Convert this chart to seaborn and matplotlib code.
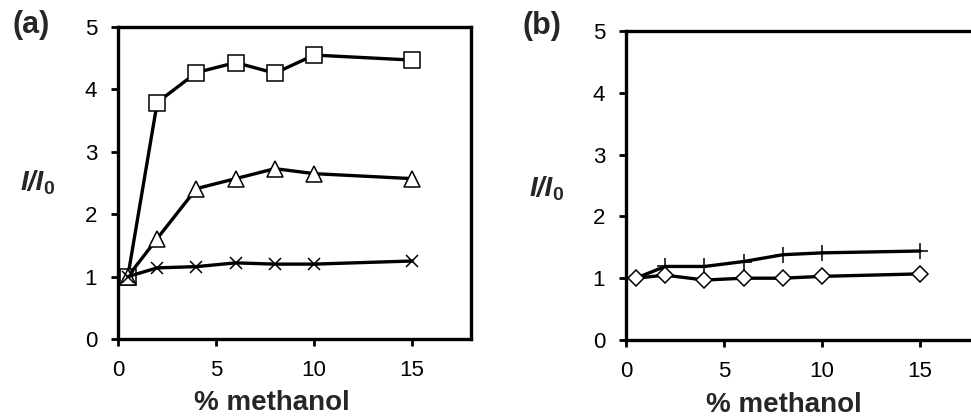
import matplotlib
matplotlib.use("Agg")
import matplotlib.pyplot as plt
import seaborn as sns
import pandas as pd

# ---- data ----
methanol = [0.5, 2, 4, 6, 8, 10, 15]
a_square = [1.0, 3.79, 4.27, 4.43, 4.26, 4.55, 4.47]
a_triangle = [1.0, 1.61, 2.41, 2.57, 2.73, 2.65, 2.57]
a_cross = [1.0, 1.14, 1.16, 1.22, 1.20, 1.20, 1.25]
b_plus = [1.0, 1.19, 1.19, 1.27, 1.38, 1.41, 1.44]
b_diamond = [1.0, 1.05, 0.97, 1.0, 1.0, 1.03, 1.07]
x_ticks = [0, 5, 10, 15]
y_ticks = [0, 1, 2, 3, 4, 5]

sns.set_theme(style="white")
plt.rcParams['font.family'] = ['Liberation Sans', 'DejaVu Sans']

W, H = 971, 417
fig = plt.figure(figsize=(W / 100, H / 100), dpi=100)

def px_ax(l, r, t, b):
    return fig.add_axes([l / W, 1 - b / H, (r - l) / W, (b - t) / H])

ax_a = px_ax(118, 471, 27, 339)
ax_b = px_ax(626, 979, 31, 340)

def style(ax, right_spine=True):
    ax.set_xlim(0, 18)
    ax.set_ylim(0, 5)
    ax.set_xticks(x_ticks)
    ax.set_yticks(y_ticks)
    for s in ax.spines.values():
        s.set_color('black')
        s.set_linewidth(2.4)
    ax.spines['right'].set_visible(right_spine)
    ax.tick_params(axis='both', direction='out', length=5, width=2,
                   color='black', labelsize=16, labelcolor='black',
                   bottom=True, left=True, top=False, right=False)
    ax.tick_params(axis='x', pad=10)
    ax.tick_params(axis='y', pad=10)
    ax.set_xlabel('')
    ax.set_ylabel('')
    ax.grid(False)

def series(ax, y, marker, ms, mew=1.1):
    df = pd.DataFrame({'x': methanol, 'y': y})
    sns.lineplot(data=df, x='x', y='y', ax=ax, color='black', linewidth=2.4,
                 marker=marker, markersize=ms, markerfacecolor='white',
                 markeredgecolor='black', markeredgewidth=mew, clip_on=False)

series(ax_a, a_square, 's', 11)
series(ax_a, a_triangle, '^', 12)
series(ax_a, a_cross, 'x', 9)
series(ax_b, b_plus, '+', 11)
series(ax_b, b_diamond, 'D', 8)

style(ax_a, True)
style(ax_b, True)

def ylab(x, y):
    fig.text(x / W, 1 - y / H, 'I/I', fontsize=20, fontweight='bold',
             fontstyle='italic', ha='right', va='baseline')
    fig.text((x - 1) / W, 1 - (y + 4) / H, '0', fontsize=14,
             fontweight='bold', ha='left', va='baseline')

ylab(44, 190)
ylab(553, 196)

fig.text(272 / W, 1 - 403 / H, '% methanol', fontsize=20, fontweight='bold',
         ha='center', va='center')
fig.text(784 / W, 1 - 405 / H, '% methanol', fontsize=20, fontweight='bold',
         ha='center', va='center')

fig.text(31 / W, 1 - 25 / H, '(a)', fontsize=22, fontweight='bold',
         ha='center', va='center')
fig.text(542 / W, 1 - 26 / H, '(b)', fontsize=22, fontweight='bold',
         ha='center', va='center')

fig.savefig('out.png', dpi=100)
